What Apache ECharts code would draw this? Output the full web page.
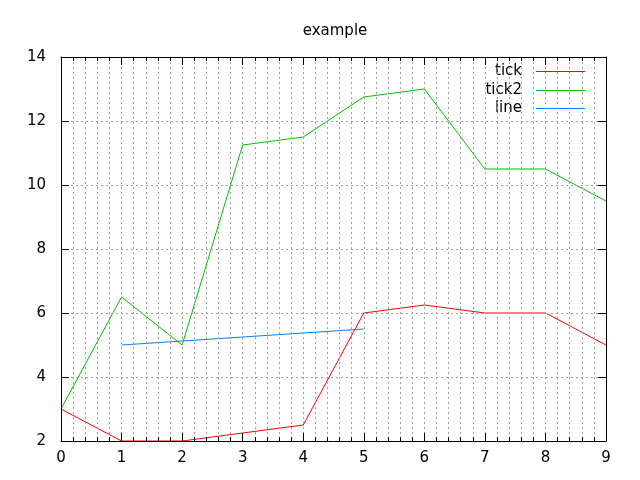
<!DOCTYPE html>
<html><head><meta charset="utf-8">
<script src="https://cdn.jsdelivr.net/npm/echarts@6/dist/echarts.min.js"></script>
<style>html,body{margin:0;padding:0;background:#fff}#c{width:640px;height:480px}</style>
</head><body><div id="c"></div>
<script>
var xValues = [0, 1, 2, 3, 4, 5, 6, 7, 8, 9];
var tickValues = [3, 2, 2, 2.25, 2.5, 6, 6.25, 6, 6, 5];
var tick2Values = [3, 6.5, 5, 11.25, 11.5, 12.75, 13, 10.5, 10.5, 9.5];
var lineX = [1, 5];
var lineValues = [5, 5.5];
var seriesNames = ['tick', 'tick2', 'line'];
var colors = ['#ff0000', '#00c000', '#0080ff'];

function pairs(xs, ys) { return xs.map(function (x, i) { return [x, ys[i]]; }); }

var font = 'DejaVu Sans';
var dotted = { show: true, lineStyle: { color: '#a0a0a0', type: [2, 3], width: 1 } };
var chart = echarts.init(document.getElementById('c'), null, { renderer: 'canvas' });

function legendFor(i, top) {
  return {
    data: [seriesNames[i]], right: 50, top: top, align: 'right', icon: 'rect',
    itemWidth: 49, itemHeight: 1, itemGap: 0, selectedMode: false,
    textStyle: { fontFamily: font, fontSize: 15, color: '#000', padding: [0, 9, 0, 0] }
  };
}

chart.setOption({
  animation: false,
  title: { text: 'example', left: 330, top: 19, textAlign: 'center',
    textStyle: { fontFamily: font, fontSize: 15, fontWeight: 'normal', color: '#000' } },
  legend: [legendFor(0, 59), legendFor(1, 78), legendFor(2, 96)],
  grid: { left: 61, right: 34, top: 57, bottom: 39, show: false },
  xAxis: [{
    type: 'value', min: 0, max: 9, interval: 1, position: 'bottom', z: 5,
    axisLine: { show: true, onZero: false, lineStyle: { color: '#000', width: 1 } },
    axisTick: { show: true, inside: true, length: 8, lineStyle: { color: '#000' } },
    minorTick: { show: true, splitNumber: 5, length: 4, lineStyle: { color: '#000' } },
    splitLine: dotted, minorSplitLine: dotted,
    axisLabel: { fontFamily: font, fontSize: 15, color: '#000', margin: 10 }
  }, {
    type: 'value', min: 0, max: 9, interval: 1, position: 'top', z: 5,
    axisLine: { show: true, onZero: false, lineStyle: { color: '#000', width: 1 } },
    axisTick: { show: true, inside: true, length: 8, lineStyle: { color: '#000' } },
    minorTick: { show: true, splitNumber: 5, length: 4, lineStyle: { color: '#000' } },
    splitLine: { show: false }, axisLabel: { show: false }
  }],
  yAxis: [{
    type: 'value', min: 2, max: 14, interval: 2, position: 'left', z: 5,
    axisLine: { show: true, onZero: false, lineStyle: { color: '#000', width: 1 } },
    axisTick: { show: true, inside: true, length: 8, lineStyle: { color: '#000' } },
    splitLine: dotted,
    axisLabel: { fontFamily: font, fontSize: 15, color: '#000', margin: 15 }
  }, {
    type: 'value', min: 2, max: 14, interval: 2, position: 'right', z: 5,
    axisLine: { show: true, onZero: false, lineStyle: { color: '#000', width: 1 } },
    axisTick: { show: true, inside: true, length: 8, lineStyle: { color: '#000' } },
    splitLine: { show: false }, axisLabel: { show: false }
  }],
  series: [
    { name: seriesNames[0], type: 'line', data: pairs(xValues, tickValues), showSymbol: false,
      lineStyle: { width: 1, color: colors[0] }, itemStyle: { color: colors[0] } },
    { name: seriesNames[1], type: 'line', data: pairs(xValues, tick2Values), showSymbol: false,
      lineStyle: { width: 1, color: colors[1] }, itemStyle: { color: colors[1] } },
    { name: seriesNames[2], type: 'line', data: pairs(lineX, lineValues), showSymbol: false,
      lineStyle: { width: 1, color: colors[2] }, itemStyle: { color: colors[2] } }
  ]
});
</script></body></html>
